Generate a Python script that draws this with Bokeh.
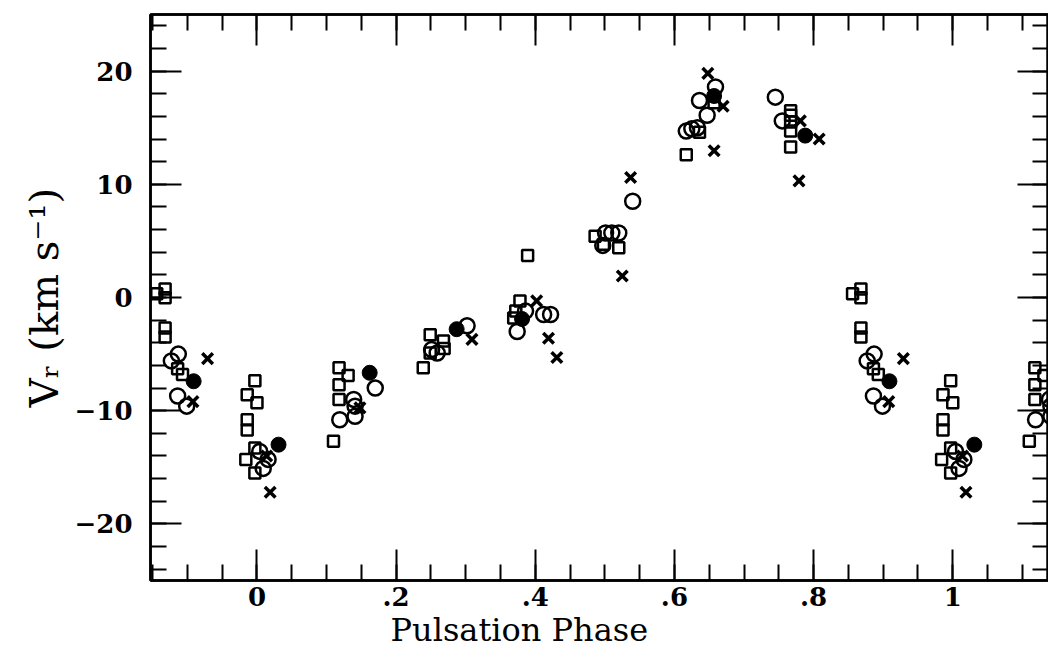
from bokeh.plotting import figure
from bokeh.models import LinearAxis, FixedTicker, Range1d, Title
from bokeh.embed import file_html
from bokeh.resources import INLINE

# ---- data (pulsation phase in [0,1), radial velocity km/s) ----
sq_phase = [0.856, 0.868, 0.868, 0.868, 0.868, 0.886, 0.893,
            0.997, 0.986, 0.000, 0.986, 0.986, 0.997, 0.984, 0.997,
            0.118, 0.131, 0.118, 0.118, 0.110,
            0.249, 0.268, 0.269, 0.249, 0.239,
            0.389, 0.378, 0.369, 0.372,
            0.486, 0.498, 0.520,
            0.636, 0.617, 0.657,
            0.767, 0.767, 0.767, 0.767, 0.767]
sq_vel = [0.34, 0.75, -0.02, -2.7, -3.5, -6.3, -6.8,
          -7.35, -8.6, -9.3, -10.8, -11.7, -13.3, -14.3, -15.5,
          -6.2, -6.9, -7.7, -9.0, -12.7,
          -3.3, -3.85, -4.5, -4.9, -6.2,
          3.7, -0.3, -1.8, -1.2,
          5.4, 4.7, 4.4,
          14.6, 12.6, 17.2,
          16.5, 16.1, 15.5, 14.7, 13.3]

oc_phase = [0.877, 0.887, 0.886, 0.899,
            0.004, 0.009, 0.016,
            0.139, 0.141, 0.141, 0.119, 0.170,
            0.251, 0.259, 0.302,
            0.412, 0.422, 0.374, 0.386,
            0.501, 0.510, 0.520, 0.497, 0.540,
            0.659, 0.636, 0.647, 0.617, 0.625, 0.633,
            0.745, 0.755]
oc_vel = [-5.6, -5.0, -8.7, -9.6,
          -13.6, -15.1, -14.3,
          -9.0, -9.6, -10.5, -10.8, -8.0,
          -4.6, -4.9, -2.5,
          -1.5, -1.5, -3.0, -1.2,
          5.7, 5.7, 5.7, 4.6, 8.5,
          18.6, 17.4, 16.1, 14.7, 14.9, 15.0,
          17.7, 15.6]

fc_phase = [0.909, 0.031, 0.162, 0.287, 0.381, 0.657, 0.788]
fc_vel = [-7.4, -13.0, -6.65, -2.8, -1.9, 17.8, 14.3]

xm_phase = [0.908, 0.929, 0.019, 0.014, 0.148, 0.309,
            0.402, 0.419, 0.431, 0.525, 0.537,
            0.648, 0.670, 0.657, 0.781, 0.808, 0.779]
xm_vel = [-9.2, -5.4, -17.2, -14.0, -9.75, -3.7,
          -0.3, -3.6, -5.3, 1.9, 10.6,
          19.8, 16.9, 12.96, 15.6, 14.0, 10.3]

x_ticks = [0.0, 0.2, 0.4, 0.6, 0.8, 1.0]
x_tick_labels = ["0", ".2", ".4", ".6", ".8", "1"]
y_ticks = [-20.0, -10.0, 0.0, 10.0, 20.0]
y_tick_labels = ["\u221220", "\u221210", "0", "10", "20"]
x_title = "Pulsation Phase"
y_title = "V\u1d63 (km s\u207b\u00b9)"

X_LO, X_HI = -0.153, 1.1376


def wrap(ph, v):
    xs, ys = [], []
    for p, vv in zip(ph, v):
        for k in (-1, 0, 1):
            q = p + k
            if X_LO - 0.05 <= q <= X_HI + 0.05:
                xs.append(q)
                ys.append(vv)
    return xs, ys


FONT = "DejaVu Serif"

p = figure(width=1048, height=653, output_backend="svg", toolbar_location=None,
           x_range=Range1d(X_LO, X_HI), y_range=Range1d(-25, 25),
           min_border_left=150, min_border_right=0, min_border_top=14,
           min_border_bottom=73, background_fill_color="white",
           border_fill_color="white")
p.grid.visible = False
p.outline_line_color = "black"
p.outline_line_width = 2.5

x_minor = [round(-0.15 + 0.05 * i, 3) for i in range(27)]
y_minor = [float(v) for v in range(-24, 25, 2)]


def style_axis(ax, ticks, minor, labels, show_labels, standoff, weight="normal"):
    ax.ticker = FixedTicker(ticks=ticks, minor_ticks=minor)
    ax.axis_line_width = 2.5
    ax.axis_line_color = "black"
    ax.major_tick_in = 31
    ax.major_tick_out = 0
    ax.minor_tick_in = 16
    ax.minor_tick_out = 0
    ax.major_tick_line_width = 2
    ax.minor_tick_line_width = 2
    ax.major_tick_line_color = "black"
    ax.minor_tick_line_color = "black"
    if show_labels:
        ax.major_label_overrides = {t: l for t, l in zip(ticks, labels)}
        ax.major_label_text_font = FONT
        ax.major_label_text_font_size = "26px"
        ax.major_label_text_font_style = weight
        ax.major_label_text_color = "black"
        ax.major_label_standoff = standoff
    else:
        ax.major_label_overrides = {t: "" for t in ticks}
        ax.major_label_standoff = 0


style_axis(p.xaxis[0], x_ticks, x_minor, x_tick_labels, True, 6, "bold")
style_axis(p.yaxis[0], y_ticks, y_minor, y_tick_labels, True, 18, "bold")
top = LinearAxis()
right = LinearAxis()
style_axis(top, x_ticks, x_minor, x_tick_labels, False, 0)
style_axis(right, y_ticks, y_minor, y_tick_labels, False, 0)
p.add_layout(top, "above")
p.add_layout(right, "right")

# ---- axis titles ----
p.add_layout(Title(text=x_title, align="left", offset=240, standoff=0,
                   text_font=FONT, text_font_size="32px",
                   text_font_style="normal", text_color="black"), "below")
p.add_layout(Title(text=y_title, align="center", offset=-22, standoff=10,
                   text_font=FONT, text_font_size="40px",
                   text_font_style="normal", text_color="black"), "left")

# ---- markers ----
xs, ys = wrap(sq_phase, sq_vel)
p.scatter(xs, ys, marker="square", size=11, fill_color=None,
          line_color="black", line_width=2.5)
xs, ys = wrap(oc_phase, oc_vel)
p.scatter(xs, ys, marker="circle", size=15, fill_color=None,
          line_color="black", line_width=2.5)
xs, ys = wrap(fc_phase, fc_vel)
p.scatter(xs, ys, marker="circle", size=15, fill_color="black",
          line_color="black", line_width=1)
xs, ys = wrap(xm_phase, xm_vel)
p.scatter(xs, ys, marker="x", size=15, line_color="black", line_width=3.5)

open("out.html", "w").write(file_html(p, INLINE))
